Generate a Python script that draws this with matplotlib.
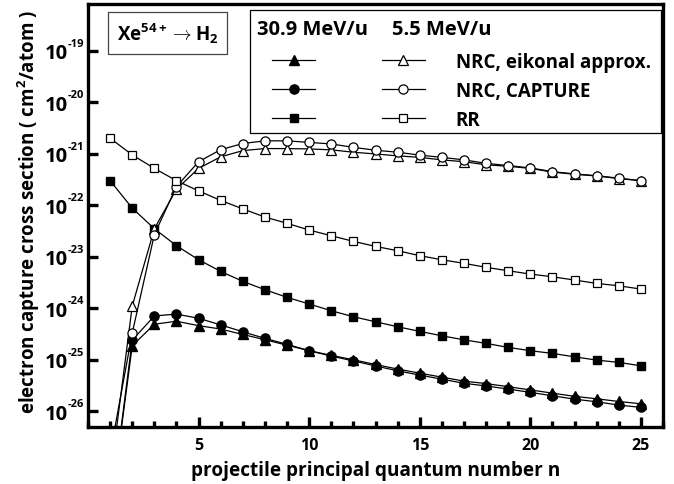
import matplotlib
matplotlib.use("Agg")
import matplotlib.pyplot as plt
from matplotlib.ticker import FixedLocator, FuncFormatter, MultipleLocator
from matplotlib.patches import Rectangle
import numpy as np

FONT = 'Open Sans'
plt.rcParams['font.family'] = [FONT, 'DejaVu Sans']
plt.rcParams['font.weight'] = 'bold'
plt.rcParams['mathtext.fontset'] = 'custom'
plt.rcParams['mathtext.rm'] = FONT + ':bold'
plt.rcParams['mathtext.bf'] = FONT + ':bold'
plt.rcParams['mathtext.it'] = FONT + ':bold'

n = list(range(1, 26))

eik_309 = [1e-28, 1.87e-25, 4.9e-25, 5.6e-25, 4.6e-25, 3.95e-25, 3.1e-25, 2.45e-25, 1.92e-25, 1.5e-25,
           1.22e-25, 1.0e-25, 8.1e-26, 6.6e-26, 5.5e-26, 4.6e-26, 3.85e-26, 3.45e-26, 3.0e-26, 2.6e-26,
           2.25e-26, 1.95e-26, 1.75e-26, 1.55e-26, 1.4e-26]
cap_309 = [1e-28, 2.4e-25, 7.1e-25, 7.7e-25, 6.4e-25, 4.75e-25, 3.5e-25, 2.6e-25, 2.0e-25, 1.5e-25,
           1.18e-25, 9.5e-26, 7.6e-26, 6.1e-26, 5.05e-26, 4.2e-26, 3.5e-26, 3.1e-26, 2.7e-26, 2.33e-26,
           2.0e-26, 1.72e-26, 1.53e-26, 1.32e-26, 1.19e-26]
rr_309 = [3.0e-22, 8.8e-23, 3.5e-23, 1.64e-23, 8.75e-24, 5.2e-24, 3.33e-24, 2.29e-24, 1.63e-24, 1.21e-24,
          8.95e-25, 6.85e-25, 5.47e-25, 4.38e-25, 3.56e-25, 2.92e-25, 2.44e-25, 2.08e-25, 1.74e-25, 1.5e-25,
          1.33e-25, 1.14e-25, 9.86e-26, 8.9e-26, 7.64e-26]
eik_55 = [5e-28, 1.1e-24, 3.5e-23, 2.05e-22, 5.2e-22, 8.7e-22, 1.15e-21, 1.26e-21, 1.26e-21, 1.24e-21,
          1.19e-21, 1.07e-21, 9.9e-22, 9.1e-22, 8.5e-22, 7.6e-22, 7.0e-22, 6.1e-22, 5.7e-22, 5.2e-22,
          4.4e-22, 4.0e-22, 3.7e-22, 3.3e-22, 3.0e-22]
cap_55 = [1.5e-27, 3.3e-25, 2.7e-23, 2.3e-22, 7.0e-22, 1.2e-21, 1.58e-21, 1.78e-21, 1.78e-21, 1.66e-21,
          1.55e-21, 1.33e-21, 1.17e-21, 1.07e-21, 9.4e-22, 8.5e-22, 7.6e-22, 6.5e-22, 5.9e-22, 5.3e-22,
          4.5e-22, 4.05e-22, 3.75e-22, 3.35e-22, 3.0e-22]
rr_55 = [2.0e-21, 9.5e-22, 5.2e-22, 3.0e-22, 1.9e-22, 1.24e-22, 8.5e-23, 5.9e-23, 4.46e-23, 3.3e-23,
         2.56e-23, 1.99e-23, 1.59e-23, 1.31e-23, 1.05e-23, 8.75e-24, 7.45e-24, 6.23e-24, 5.35e-24, 4.61e-24,
         4.09e-24, 3.53e-24, 3.04e-24, 2.73e-24, 2.36e-24]

labels = ['NRC, eikonal approx.', 'NRC, CAPTURE', 'RR']
headers = ['30.9 MeV/u', '5.5 MeV/u']
yticks = [1e-26, 1e-25, 1e-24, 1e-23, 1e-22, 1e-21, 1e-20, 1e-19]
xticks = [5, 10, 15, 20, 25]

W, H = 674, 485
L, R, T, B = 88, 663, 5, 428
fig = plt.figure(figsize=(W/100, H/100), dpi=100)
ax = fig.add_axes([L/W, 1-B/H, (R-L)/W, (B-T)/H])

def axx(px):
    return (px - L) / (R - L)

def axy(py):
    return (B - py) / (B - T)

lw = 0.9
ms_t, ms_c, ms_s = 6.8, 6.6, 5.8
h1, = ax.plot(n, eik_309, '-', color='black', lw=lw, marker='^', ms=ms_t, mfc='black', mec='black')
h2, = ax.plot(n, cap_309, '-', color='black', lw=lw, marker='o', ms=ms_c, mfc='black', mec='black')
h3, = ax.plot(n, rr_309, '-', color='black', lw=lw, marker='s', ms=ms_s, mfc='black', mec='black')
h4, = ax.plot(n, eik_55, '-', color='black', lw=lw, marker='^', ms=ms_t, mfc='white', mec='black', mew=0.9)
h5, = ax.plot(n, cap_55, '-', color='black', lw=lw, marker='o', ms=ms_c, mfc='white', mec='black', mew=0.9)
h6, = ax.plot(n, rr_55, '-', color='black', lw=lw, marker='s', ms=ms_s, mfc='white', mec='black', mew=0.9)

ax.set_yscale('log')
ax.set_xlim(0, 26)
ax.set_ylim(10**-26.305, 10**-18.093)

ax.yaxis.set_major_locator(FixedLocator(yticks))
ax.yaxis.set_minor_locator(FixedLocator([]))
ax.yaxis.set_major_formatter(FuncFormatter(lambda v, p: '10'))
ax.xaxis.set_major_locator(FixedLocator(xticks))
ax.xaxis.set_minor_locator(MultipleLocator(1))

for s in ax.spines.values():
    s.set_linewidth(2.4)
ax.tick_params(which='major', direction='in', length=7, width=2.4)
ax.tick_params(which='minor', direction='in', length=4, width=2.4)
ax.tick_params(axis='x', labelsize=11.5, pad=7)
ax.tick_params(axis='y', labelsize=14.5, pad=20*0.72)
for t in ax.get_xticklabels() + ax.get_yticklabels():
    t.set_fontweight('bold')

# exponents of the y tick labels
for v in yticks:
    ax.annotate('-%d' % int(round(-np.log10(v))), xy=(0, v), xycoords=('axes fraction', 'data'),
                xytext=(-20*0.72, 5.5), textcoords='offset points', ha='left', va='center',
                fontsize=8, fontweight='bold', annotation_clip=False)

ax.set_xlabel('projectile principal quantum number n', fontsize=13.7, fontweight='bold')
ax.xaxis.set_label_coords(0.5, axy(461))
ax.set_ylabel(r'electron capture cross section ( cm$^{\mathbf{2}}$/atom )', fontsize=13.5, fontweight='bold')
ax.yaxis.set_label_coords(axx(42), axy(212))

# legend box + headers
ax.add_patch(Rectangle((axx(250), axy(134)), axx(661) - axx(250), axy(11) - axy(134),
                       transform=ax.transAxes, fc='white', ec='black', lw=0.9, zorder=4))
ax.text(axx(257), axy(30), headers[0], transform=ax.transAxes, fontsize=14.5, fontweight='bold',
        ha='left', va='center', zorder=6)
ax.text(axx(392), axy(30), headers[1], transform=ax.transAxes, fontsize=14.5, fontweight='bold',
        ha='left', va='center', zorder=6)

leg = ax.legend([h1, h2, h3, h4, h5, h6], ['', '', ''] + labels, ncol=2,
                loc='upper left', bbox_to_anchor=(axx(272), axy(53)), borderaxespad=0,
                prop={'size': 13.5, 'weight': 'bold'}, frameon=False, handlelength=2.3,
                handletextpad=1.65, columnspacing=1.9, labelspacing=0.47, borderpad=0)
leg.set_zorder(6)

ax.text(axx(167.5), axy(34), r'Xe$^{\mathbf{54+}}$$\rightarrow$H$_{\mathbf{2}}$', transform=ax.transAxes,
        fontsize=13.5, fontweight='bold', ha='center', va='center',
        bbox=dict(boxstyle='square,pad=0.45', fc='white', ec='#444444', lw=0.9))

fig.savefig('out.png', dpi=100)
